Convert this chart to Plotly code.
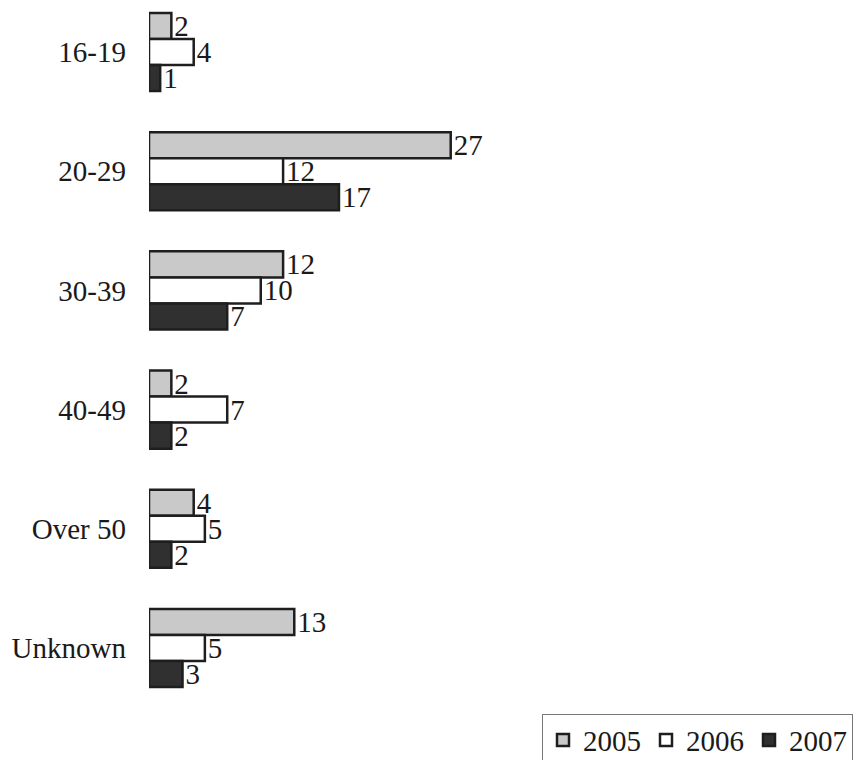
import plotly.graph_objects as go

# Age groups and counts per year
age_groups = ["16-19", "20-29", "30-39", "40-49", "Over 50", "Unknown"]
counts_2005 = [2, 27, 12, 2, 4, 13]
counts_2006 = [4, 12, 10, 7, 5, 5]
counts_2007 = [1, 17, 7, 2, 2, 3]

series = [
    ("2005", counts_2005, "#c9c9c9"),
    ("2006", counts_2006, "#ffffff"),
    ("2007", counts_2007, "#303030"),
]

SERIF = "Liberation Serif, Times New Roman, serif"
FS = 29

fig = go.Figure()
for name, vals, color in series:
    fig.add_trace(go.Bar(
        y=age_groups,
        x=vals,
        name=name,
        orientation="h",
        marker=dict(color=color, line=dict(color="#1e1e1e", width=2.5)),
        text=[str(v) for v in vals],
        textposition="outside",
        constraintext="none",
        cliponaxis=False,
        textfont=dict(family=SERIF, size=FS, color="#1a1a1a"),
    ))

fig.update_layout(
    width=853,
    height=760,
    barmode="group",
    bargap=0.345,
    bargroupgap=0,
    plot_bgcolor="white",
    paper_bgcolor="white",
    margin=dict(l=149, r=0, t=0, b=50, autoexpand=False),
    font=dict(family=SERIF, size=FS, color="#1a1a1a"),
    showlegend=True,
    legend=dict(
        orientation="h",
        x=1.0, xanchor="right",
        y=-0.005, yanchor="top",
        bordercolor="#777777",
        borderwidth=1,
        bgcolor="white",
        font=dict(family=SERIF, size=FS, color="#1a1a1a"),
        itemwidth=30,
        traceorder="normal",
    ),
    xaxis=dict(
        range=[0, 63],
        showgrid=False,
        zeroline=False,
        showticklabels=False,
        showline=False,
        ticks="",
    ),
    yaxis=dict(
        range=[5.52, -0.436],
        showgrid=False,
        zeroline=False,
        showline=False,
        ticks="",
        ticklabelstandoff=22,
        tickfont=dict(family=SERIF, size=FS, color="#1a1a1a"),
    ),
)

fig.write_html("out.html")
